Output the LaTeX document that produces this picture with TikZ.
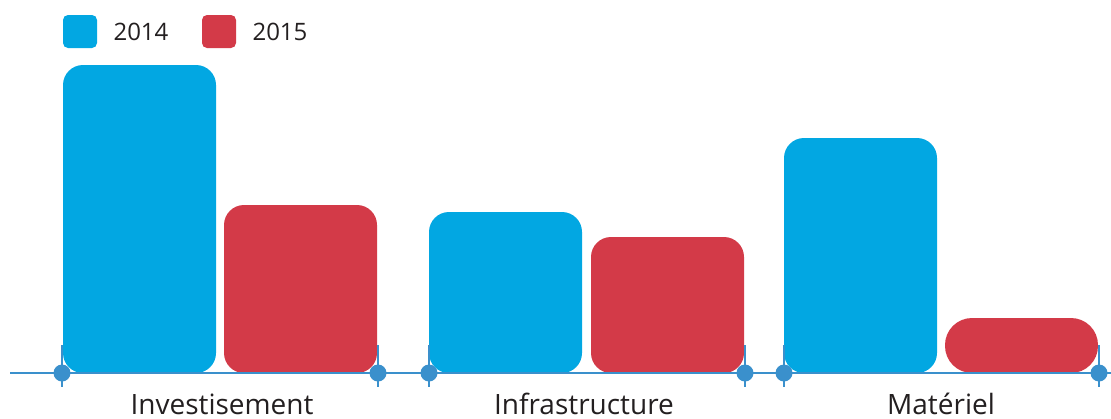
\documentclass[tikz,border=0pt]{standalone}
\usepackage{fontspec}
\setmainfont{Open Sans}
\definecolor{cblue}{HTML}{02A7E2}
\definecolor{cred}{HTML}{D33A48}
\definecolor{caxis}{HTML}{3A90CC}
\definecolor{ctext}{HTML}{231F20}
\begin{document}
\begin{tikzpicture}[x=1pt,y=-1pt,
  bar/.style={rounded corners=20pt},
  axisline/.style={draw=caxis,line width=2pt},
  tick/.style={draw=caxis,line width=2pt},
  dot/.style={circle,fill=caxis,inner sep=0pt,minimum size=17pt},
  cat/.style={text=ctext,font=\fontsize{28}{30}\selectfont,anchor=base},
  leg/.style={text=ctext,font=\fontsize{24}{26}\selectfont,anchor=base west},
  legbox/.style={rounded corners=5pt}]
\useasboundingbox (0,0) rectangle (1111,418);
% bars
\fill[cblue,bar] (63,373) rectangle (216,65);
\fill[cred,bar] (224,373) rectangle (377,205);
\fill[cblue,bar] (429,373) rectangle (582,212);
\fill[cred,bar] (591,373) rectangle (744,237);
\fill[cblue,bar] (784,373) rectangle (937,138);
\fill[cred,rounded corners=27pt] (945,373) rectangle (1098,318);
% axis
\coordinate (al) at (10,373);
\coordinate (ar) at (1111,373);
\draw[axisline] (al) -- (ar);
\foreach \n/\x in {t1/62,t2/378,t3/429,t4/745,t5/784,t6/1099}{
  \coordinate (\n top) at (\x,345);
  \coordinate (\n bot) at (\x,387);
  \draw[tick] (\n top) -- (\n bot);
  \node[dot] (\n) at (\x,373) {};
}
% labels
\node[cat] (l1) at (222,414) {Investisement};
\node[cat] (l2) at (584,414) {Infrastructure};
\node[cat] (l3) at (941,414) {Matériel};
% legend
\fill[cblue,legbox] (63,15) rectangle (97,48);
\node[leg] (g1) at (110,40) {2014};
\fill[cred,legbox] (202,15) rectangle (236,48);
\node[leg] (g2) at (249,40) {2015};
\end{tikzpicture}
\end{document}
